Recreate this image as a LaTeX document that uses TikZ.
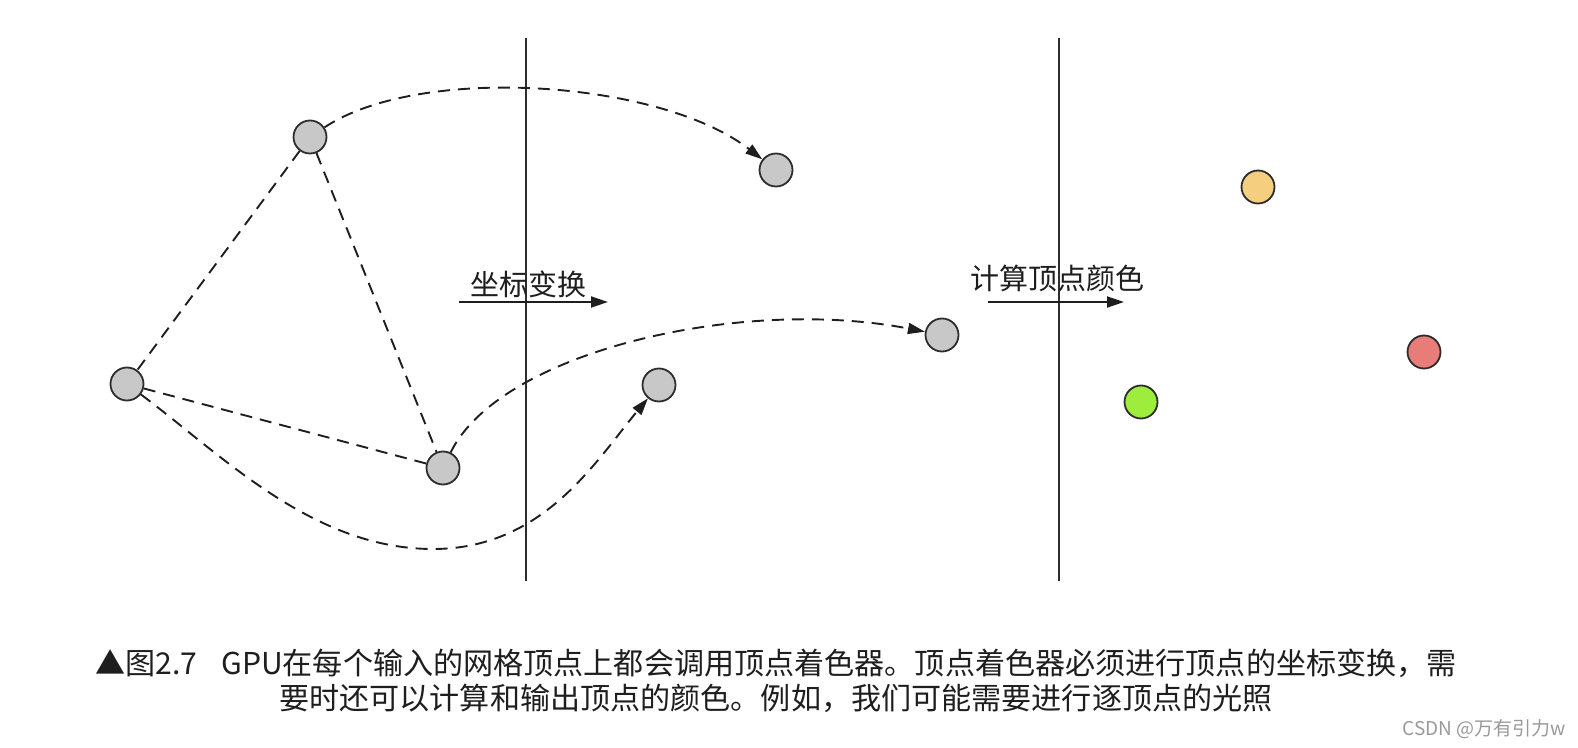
\documentclass[tikz,border=0pt]{standalone}
\usepackage{fontspec}
\setmainfont{Noto Sans CJK SC}
\usetikzlibrary{arrows.meta}
\definecolor{vgray}{RGB}{200,200,200}
\definecolor{vedge}{RGB}{45,45,45}
\definecolor{peach}{RGB}{246,206,128}
\definecolor{rose}{RGB}{232,124,120}
\definecolor{lime}{RGB}{158,236,60}
\definecolor{ink}{RGB}{30,30,30}
\tikzset{
  >={Triangle[length=8.5pt,width=5.5pt]},
  vert/.style={circle,draw=vedge,fill=#1,line width=0.9pt,minimum size=16.5pt,inner sep=0pt},
  vert/.default=vgray,
  hop/.style={dash pattern=on 6pt off 4pt,line width=0.95pt,draw=ink},
  stage/.style={->,line width=0.9pt,draw=ink},
  divider/.style={line width=1pt,draw=vedge},
  tag/.style={font=\fontsize{14.5}{16}\selectfont,text=ink,inner sep=0pt},
}
\begin{document}
\begin{tikzpicture}[x=0.5pt,y=-0.5pt]
  \useasboundingbox (0,0) rectangle (1578,748);
  % stage dividers
  \foreach \x in {526,1059} \draw[divider] (\x,38) -- (\x,581);
  % input mesh
  \node[vert] (in1) at (310,137) {};
  \node[vert] (in2) at (127,384) {};
  \node[vert] (in3) at (443,468) {};
  \draw[hop] (in1) -- (in2) (in1) -- (in3) (in2) -- (in3);
  % transformed vertices
  \node[vert] (out1) at (776,170) {};
  \node[vert] (out2) at (659,385) {};
  \node[vert] (out3) at (942,335) {};
  \coordinate (dip) at (433,549);
  \draw[hop,->] (in1) .. controls (420,64) and (660,80) .. (out1);
  \draw[hop,->] (in2) .. controls (223,456) and (313,549) .. (dip)
    .. controls (543,549) and (595,462) .. (out2);
  \draw[hop,->] (in3) .. controls (500,352) and (740,296) .. (out3);
  % lit vertices
  \node[vert=peach] (lit1) at (1258,187) {};
  \node[vert=rose] (lit2) at (1424,352) {};
  \node[vert=lime] (lit3) at (1141,402) {};
  % stage labels
  \coordinate (xf0) at (459,302); \coordinate (xf1) at (608,302);
  \draw[stage] (xf0) -- (xf1);
  \node[tag] (xflab) at (528,284) {坐标变换};
  \coordinate (cl0) at (988,302); \coordinate (cl1) at (1124,302);
  \draw[stage] (cl0) -- (cl1);
  \node[tag] (cllab) at (1057,278) {计算顶点颜色};
  % caption
  \node[font=\fontsize{15.05}{17.5}\selectfont,align=center,text=ink] (cap) at (776,681)
    {▲图2.7\hspace{0.8em}GPU在每个输入的网格顶点上都会调用顶点着色器。顶点着色器必须进行顶点的坐标变换，需\\
     要时还可以计算和输出顶点的颜色。例如，我们可能需要进行逐顶点的光照};
  \node[font=\fontsize{9.5}{11}\selectfont,text=black!40] (mark) at (1484,729) {CSDN @万有引力w};
\end{tikzpicture}
\end{document}
